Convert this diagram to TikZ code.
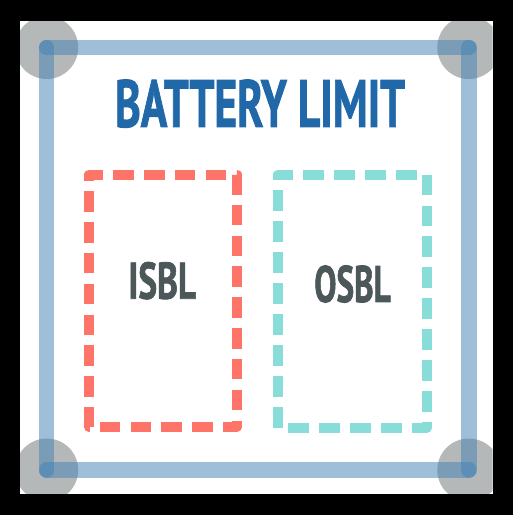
\documentclass[tikz,border=0pt]{standalone}
\usepackage{fontspec}
\newfontfamily\labelfont{PT Sans}[BoldFeatures={FakeBold=1.6}]
\definecolor{frameblue}{RGB}{65,129,181}
\definecolor{cornergray}{RGB}{180,184,184}
\definecolor{isblred}{RGB}{255,116,105}
\definecolor{osblteal}{RGB}{136,221,216}
\definecolor{titleblue}{RGB}{32,104,168}
\definecolor{textgray}{RGB}{75,87,89}
\tikzset{
  limitline/.style={draw=frameblue, line width=15.5pt, line cap=round, opacity=0.5},
  cornerdot/.style={fill=cornergray},
  zonebox/.style={line width=10pt, line cap=butt, line join=round},
  zonelabel/.style={inner sep=0pt, text=textgray, font=\labelfont\bfseries}
}
\begin{document}
\begin{tikzpicture}[x=1pt,y=-1pt]
\useasboundingbox (0,0) rectangle (513,515);
\fill[black] (0,0) rectangle (513,515);
\fill[white] (20,21) rectangle (492.5,493.5);
\coordinate (tl) at (46.7,47.5);
\coordinate (tr) at (468.8,47.5);
\coordinate (br) at (468.8,470);
\coordinate (bl) at (46.7,470);
\begin{scope}
\clip (20,21) rectangle (492.5,493.5);
\foreach \c in {tl,tr,br,bl} \fill[cornerdot] (\c) circle (31.5);
\draw[limitline] (tl) -- (tr);
\draw[limitline] (tr) -- (br);
\draw[limitline] (br) -- (bl);
\draw[limitline] (bl) -- (tl);
\end{scope}
% ISBL box
\draw[zonebox, draw=isblred, dash pattern=on 20.5pt off 10.31pt]
  (113.3,174.5) -- (237,174.5) -- (237,427) -- (89,427) -- (89,174.5) -- cycle;
% OSBL box
\draw[zonebox, draw=osblteal, dash pattern=on 20.6pt off 10.34pt]
  (303.3,174.5) -- (427,174.5) -- (427,427.7) -- (278,427.7) -- (278,174.5) -- cycle;
\node[inner sep=0pt, text=titleblue, font=\labelfont\bfseries] (title) at (260,103.6)
  {\resizebox{290pt}{47.3pt}{BATTERY LIMIT}};
\node[zonelabel] (isbl) at (162.2,280.7) {\resizebox{67.7pt}{36.7pt}{ISBL}};
\node[zonelabel] (osbl) at (352.5,284) {\resizebox{76.3pt}{36.6pt}{OSBL}};
\end{tikzpicture}
\end{document}
